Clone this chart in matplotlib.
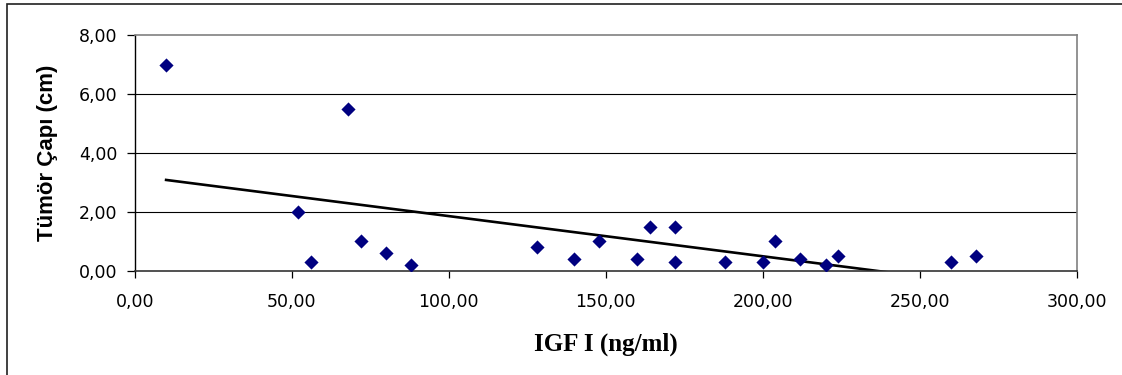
import numpy as np
import matplotlib
matplotlib.use('Agg')
import matplotlib.pyplot as plt
from matplotlib.patches import Rectangle
from matplotlib.ticker import FuncFormatter

# IGF I (ng/ml) vs tumour diameter (cm)
igf = [10, 52, 56, 68, 72, 80, 88, 128, 140, 148, 160, 164, 172, 172,
       188, 200, 204, 212, 220, 224, 260, 268]
capi = [7.0, 2.0, 0.3, 5.5, 1.0, 0.6, 0.2, 0.8, 0.4, 1.0, 0.4, 1.5, 1.5, 0.3,
        0.3, 0.3, 1.0, 0.4, 0.2, 0.5, 0.3, 0.5]

x_ticks = [0, 50, 100, 150, 200, 250, 300]
y_ticks = [0, 2, 4, 6, 8]

W, H = 1122, 375
fig = plt.figure(figsize=(W / 100, H / 100), dpi=100)
ax = fig.add_axes([134.7 / W, 1 - 270.7 / H, (1076.7 - 134.7) / W, (270.7 - 35.3) / H])

# outer chart border (only left and top visible in the crop)
fig.patches.append(Rectangle((7 / W, -0.1), 1.2, 1 - 4 / H + 0.1, transform=fig.transFigure,
                             fill=False, edgecolor='#202020', linewidth=1.2))

for y in y_ticks[1:-1]:
    ax.axhline(y, color='black', linewidth=0.8, zorder=1)

ax.scatter(igf, capi, marker='D', s=52, color='#000080', zorder=3, linewidths=0)

# linear trend line
xa = np.array(igf, dtype=float)
k, b = np.polyfit(xa, np.array(capi), 1)
xs = np.array([xa.min(), xa.max()])
ax.plot(xs, k * xs + b, color='black', linewidth=1.9, zorder=2)

ax.set_xlim(0, 300)
ax.set_ylim(0, 8)
ax.set_xticks(x_ticks)
ax.set_yticks(y_ticks)
fmt = FuncFormatter(lambda v, p: f'{v:.2f}'.replace('.', ','))
ax.xaxis.set_major_formatter(fmt)
ax.yaxis.set_major_formatter(fmt)

for s in ['top', 'right']:
    ax.spines[s].set_color('#808080')
    ax.spines[s].set_linewidth(1.2)
ax.spines['left'].set_color('black')
ax.spines['bottom'].set_color('#333333')
ax.spines['left'].set_linewidth(1.0)
ax.spines['bottom'].set_linewidth(1.2)

ax.tick_params(axis='y', direction='out', length=5.5, width=0.9, pad=7, labelsize=12.5)
ax.tick_params(axis='x', direction='out', length=5, width=0.9, pad=11, labelsize=12.5)
for lbl in ax.get_xticklabels() + ax.get_yticklabels():
    lbl.set_family('DejaVu Sans')

ax.set_ylabel('Tümör Çapı (cm)', fontsize=16, fontweight='bold', family='Liberation Sans')
ax.yaxis.set_label_coords((48 - 134.7) / (1076.7 - 134.7), 0.5)
ax.set_xlabel('IGF I (ng/ml)', fontsize=18, fontweight='bold', family='Liberation Serif')
ax.xaxis.set_label_coords(0.5, -(344 - 270.7) / (270.7 - 35.3))
ax.xaxis.label.set_va('center')
ax.yaxis.label.set_va('center')

fig.savefig('out.png', dpi=100)
